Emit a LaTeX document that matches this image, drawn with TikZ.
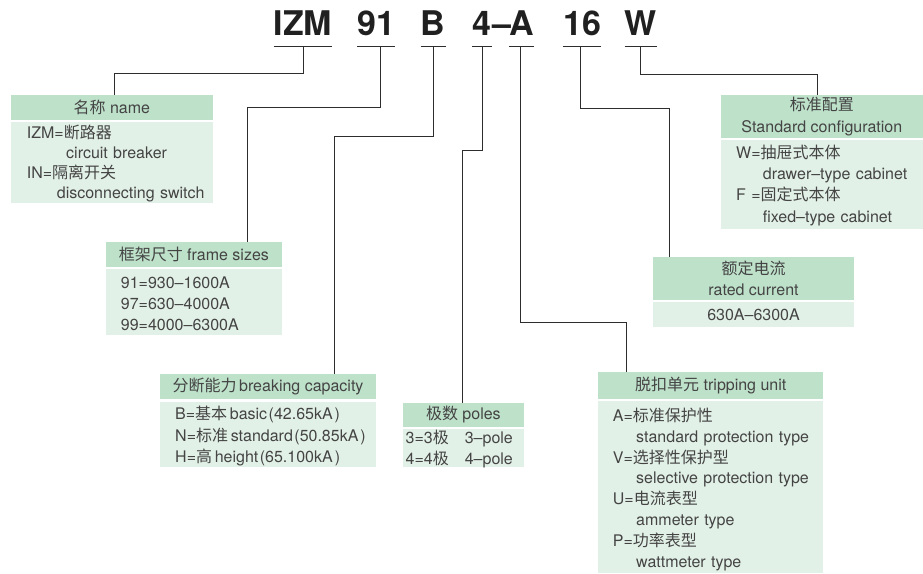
\documentclass[tikz,border=0pt]{standalone}
\usepackage{fontspec}
\setmainfont{TeX Gyre Heros}
\newfontfamily\zhfont{Noto Sans CJK SC}
\newfontfamily\codefont{TeX Gyre Heros}[Ligatures=TeX]
\usepackage{xcolor}
\usetikzlibrary{positioning}
\newcommand{\zhtxt}[1]{{\zhfont #1}}
\definecolor{headgreen}{RGB}{190,225,202}
\definecolor{bodygreen}{RGB}{226,241,231}
\definecolor{inkgray}{RGB}{68,68,68}
\definecolor{linegray}{RGB}{45,45,45}
\definecolor{codeblack}{RGB}{32,32,32}
\tikzset{
  codeletter/.style={font=\codefont\bfseries\fontsize{34}{34}\selectfont, text=codeblack, inner sep=0pt, anchor=base},
  leader/.style={draw=linegray, line width=0.9pt},
  headbox/.style={fill=headgreen, text=inkgray, inner sep=0pt, outer sep=0pt, anchor=north west, align=center, font=\fontsize{16}{21.6}\selectfont},
  bodybox/.style={fill=bodygreen, text=inkgray, inner sep=0pt, outer sep=0pt, font=\fontsize{16}{20.8}\selectfont},
  boxtext/.style={text=inkgray, inner sep=0pt, anchor=base west, text width=215pt, align=left, font=\fontsize{16}{#1}\selectfont},
  boxtext/.default=20.8
}
\begin{document}
\begin{tikzpicture}[x=1pt,y=-1pt]
        \useasboundingbox (0,0) rectangle (923,573);
        % codigo
        \node[codeletter] (izm) at (303,35) {IZM};
        \node[codeletter] (c91) at (376.3,35) {91};
        \node[codeletter] (cB) at (433.2,35) {B};
        \node[codeletter] (c4) at (482,35) {4};
        \node[codeletter] (cdash) at (501.5,35) {--};
        \node[codeletter] (cA) at (521.3,35) {A};
        \node[codeletter] (c16) at (582,35) {16};
        \node[codeletter] (cW) at (640.8,35) {W};
        \foreach \c in {izm,c91,cB,c4,cA,c16,cW}
        \draw[leader] ([yshift=-11.7pt]\c.base west) -- ([yshift=-11.7pt]\c.base east);
        % caja nombre
        \node[headbox, minimum width=201.7pt, minimum height=25pt] (namehd) at (11,95) {\zhtxt{名称} name};
        \node[bodybox, minimum width=201.7pt, minimum height=81.3pt, below=2pt of namehd] (namebd) {};
        \node[boxtext=20] (nametx) at (26.7,138.7) {IZM=\zhtxt{断路器}\\\hspace*{39.3pt}circuit breaker\\IN=\zhtxt{隔离开关}\\\hspace*{30pt}disconnecting switch};
        % caja frame sizes
        \node[headbox, minimum width=176.3pt, minimum height=25pt] (framehd) at (105.7,242.3) {\zhtxt{框架尺寸} frame sizes};
        \node[bodybox, minimum width=176.3pt, minimum height=66pt, below=2pt of framehd] (framebd) {};
        \node[boxtext] (frametx) at (120.7,288.7) {91=930--1600A\\97=630--4000A\\99=4000--6300A};
        % caja breaking capacity
        \node[headbox, minimum width=216pt, minimum height=25.3pt] (brkhd) at (160,374) {\zhtxt{分断能力}\,breaking capacity};
        \node[bodybox, minimum width=216pt, minimum height=65.6pt, below=2.4pt of brkhd] (brkbd) {};
        \node[boxtext=21.5] (brktx) at (175,419.7) {B=\zhtxt{基本}\,basic\kern1.5pt(42.65kA\kern2pt)\\N=\zhtxt{标准}\,standard\kern1.5pt(50.85kA\kern2pt)\\H=\zhtxt{高}\,height\kern1.5pt(65.100kA\kern2pt)};
        % caja poles
        \node[headbox, minimum width=121.3pt, minimum height=23.4pt] (poleshd) at (402.7,403.3) {\zhtxt{极数} poles};
        \node[bodybox, minimum width=121.3pt, minimum height=38.6pt, below=2pt of poleshd] (polesbd) {};
        \node[boxtext=21] (polestx) at (405.5,443.7) {3=3\zhtxt{极}\quad 3--pole\\4=4\zhtxt{极}\quad 4--pole};
        % caja standard configuration
        \node[headbox, minimum width=202.3pt, minimum height=43.3pt] (stdhd) at (720.7,95) {\zhtxt{标准配置}\\Standard configuration};
        \node[bodybox, minimum width=202.3pt, minimum height=88.7pt, below=1.7pt of stdhd] (stdbd) {};
        \node[boxtext=21.1] (stdtx) at (736,158.7) {W=\zhtxt{抽屉式本体}\\\hspace*{26.7pt}drawer--type cabinet\\F =\zhtxt{固定式本体}\\\hspace*{26.7pt}fixed--type cabinet};
        % caja rated current
        \node[headbox, minimum width=201.6pt, minimum height=43.3pt] (ratedhd) at (652.7,256.7) {\zhtxt{额定电流}\\rated current};
        \node[bodybox, minimum width=201.6pt, minimum height=24.7pt, below=2pt of ratedhd] (ratedbd) {630A--6300A};
        % caja tripping unit
        \node[headbox, minimum width=225pt, minimum height=27.6pt] (triphd) at (598.3,371.7) {\zhtxt{脱扣单元} tripping unit};
        \node[bodybox, minimum width=225pt, minimum height=171.7pt, below=2pt of triphd] (tripbd) {};
        \node[boxtext] (triptx) at (612.7,421.4) {A=\zhtxt{标准保护性}\\\hspace*{23.3pt}standard protection type\\V=\zhtxt{选择性保护型}\\\hspace*{23.3pt}selective protection type\\U=\zhtxt{电流表型}\\\hspace*{23.3pt}ammeter type\\P=\zhtxt{功率表型}\\\hspace*{23.3pt}wattmeter type};
        % lineas
        \draw[leader] ([yshift=-11.7pt]izm.base) -- ++(0,26.6) -| ([xshift=2.5pt]namehd.north);
        \draw[leader] ([xshift=4.4pt,yshift=-11.7pt]c91.base) -- ++(0,60.6) -| ([xshift=53.9pt]framehd.north);
        \draw[leader] ([yshift=-11.7pt]cB.base) -- ++(0,89.3) -| ([xshift=66.3pt]brkhd.north);
        \draw[leader] ([yshift=-11.7pt]c4.base) -- ++(0,103.3) -| ([xshift=-0.8pt]poleshd.north);
        \draw[leader] ([xshift=-0.6pt,yshift=-11.7pt]cA.base) -- ++(0,276) -| ([xshift=-84.8pt]triphd.north);
        \draw[leader] ([xshift=-2pt,yshift=-11.7pt]c16.base) -- ++(0,62) -| ([xshift=-84.2pt]ratedhd.north);
        \draw[leader] ([yshift=-11.7pt]cW.base) -- ++(0,27.3) -| ([xshift=-4.4pt]stdhd.north);
\end{tikzpicture}
\end{document}
